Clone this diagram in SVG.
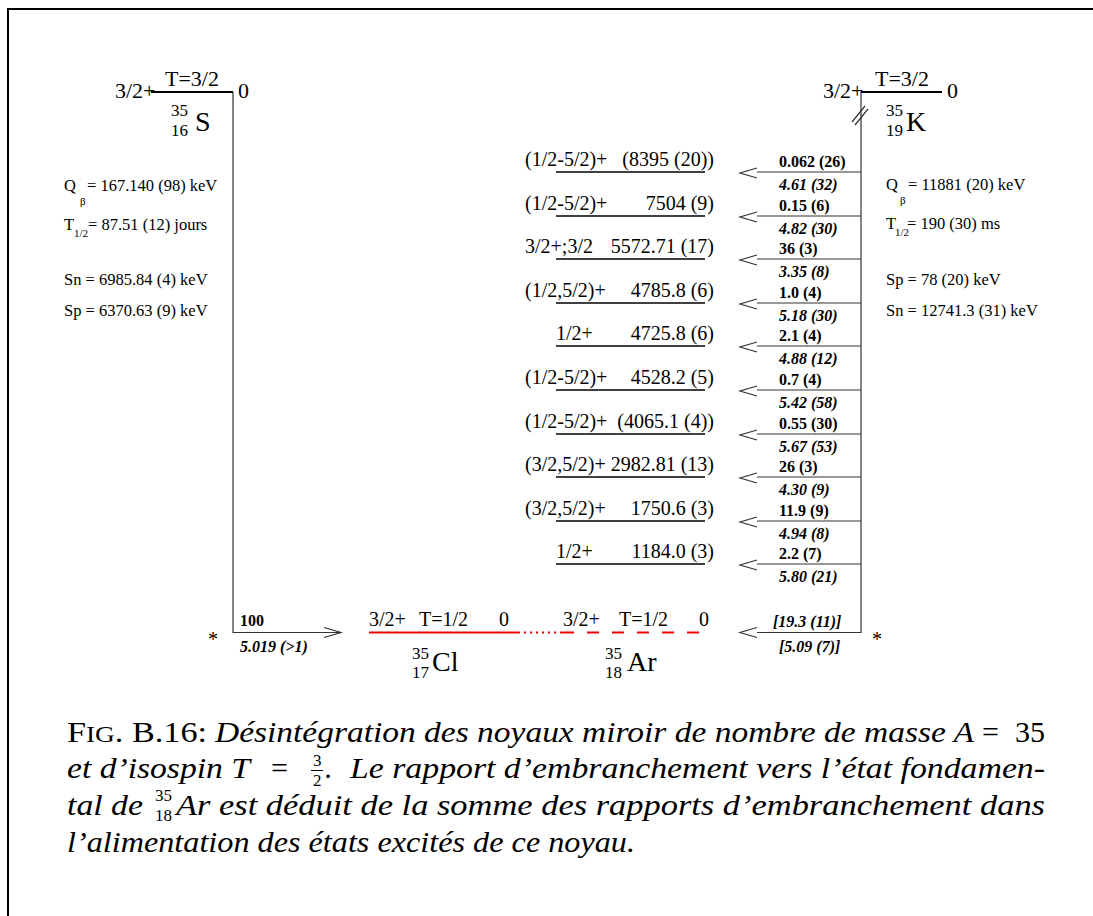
<svg xmlns="http://www.w3.org/2000/svg" width="1093" height="916" viewBox="0 0 1093 916">
<style>
text{font-family:"Liberation Serif","Times New Roman",serif;fill:#000}
.lv{font-size:20px}
.big{font-size:22px}
.info{font-size:16.5px}
.sub{font-size:11px}
.b{font-size:16px;font-weight:bold}
.bi{font-size:16px;font-weight:bold;font-style:italic}
.iso{font-size:17px}
.el{font-size:28px}
.lvl{stroke:#000;stroke-width:1.6;fill:none}
.ar{stroke:#333;stroke-width:1.2;fill:none}
.cap{font-size:30px}
.it{font-style:italic}
.frac{font-size:17px}
</style>
<defs>
<path id="chevL" d="M17,-5 L0,0 L17,5" fill="none" stroke="#333" stroke-width="1.2"/>
<path id="chevR" d="M-17,-5 L0,0 L-17,5" fill="none" stroke="#333" stroke-width="1.2"/>
</defs>
<path d="M8,916 V9 H1093" fill="none" stroke="#000" stroke-width="2"/>

<g id="S35">
<line x1="151" y1="92" x2="233" y2="92" stroke="#000" stroke-width="2"/>
<text class="big" x="115" y="98">3/2+</text>
<text class="big" x="165" y="86" font-size="23">T=3/2</text>
<text class="big" x="238" y="98">0</text>
<text class="iso" x="171" y="116">35</text>
<text class="iso" x="171" y="136">16</text>
<text class="el" x="195" y="131">S</text>
<text class="info" x="64" y="191">Q</text><text class="sub" x="80" y="205">β</text><text class="info" x="87" y="191">= 167.140 (98) keV</text>
<text class="info" x="64" y="230">T</text><text class="sub" x="74" y="237">1/2</text><text class="info" x="88" y="230">= 87.51 (12) jours</text>
<text class="info" x="64" y="285">Sn = 6985.84 (4) keV</text>
<text class="info" x="64" y="316">Sp = 6370.63 (9) keV</text>
</g>

<g id="K35">
<line x1="861" y1="92" x2="942" y2="92" stroke="#000" stroke-width="2"/>
<text class="big" x="823" y="98">3/2+</text>
<text class="big" x="875" y="86" font-size="23">T=3/2</text>
<text class="big" x="947" y="98">0</text>
<text class="iso" x="886" y="116">35</text>
<text class="iso" x="886" y="136">19</text>
<text class="el" x="906" y="131">K</text>
<text class="info" x="886" y="190">Q</text><text class="sub" x="900" y="204">β</text><text class="info" x="908" y="190">= 11881 (20) keV</text>
<text class="info" x="886" y="229">T</text><text class="sub" x="895" y="236">1/2</text><text class="info" x="907" y="229">= 190 (30) ms</text>
<text class="info" x="886" y="285">Sp = 78 (20) keV</text>
<text class="info" x="886" y="316">Sn = 12741.3 (31) keV</text>
</g>

<g id="Cl35">
<line x1="369" y1="632.5" x2="518" y2="632.5" stroke="#e00" stroke-width="2.2"/>
<text class="lv" x="369" y="626" font-size="21">3/2+</text>
<text class="lv" x="419" y="626" font-size="21">T=1/2</text>
<text class="lv" x="499" y="626" font-size="21">0</text>
<text class="iso" x="412" y="659" font-size="16">35</text>
<text class="iso" x="412" y="678" font-size="16">17</text>
<text class="el" x="432" y="671" font-size="26">Cl</text>
</g>

<g id="Ar35">
<line x1="518" y1="632.5" x2="562" y2="632.5" stroke="#e00" stroke-width="2.2" stroke-dasharray="2,4"/>
<line x1="562" y1="632.5" x2="700" y2="632.5" stroke="#e00" stroke-width="2.2" stroke-dasharray="12,13"/>
<text class="lv" x="563" y="626" font-size="21">3/2+</text>
<text class="lv" x="619" y="626" font-size="21">T=1/2</text>
<text class="lv" x="699" y="626" font-size="21">0</text>
<text class="iso" x="605" y="659" font-size="16">35</text>
<text class="iso" x="605" y="678" font-size="16">18</text>
<text class="el" x="627" y="671" font-size="26">Ar</text>
</g>

<g id="L1"><line class="lvl" x1="556" y1="172" x2="705" y2="172"/><text class="lv" x="525" y="166">(1/2-5/2)+</text><text class="lv" x="714" y="166" text-anchor="end">(8395 (20))</text><text class="b" x="779" y="167">0.062 (26)</text><text class="bi" x="779" y="190">4.61 (32)</text></g>
<g id="L2"><line class="lvl" x1="556" y1="216" x2="705" y2="216"/><text class="lv" x="525" y="210">(1/2-5/2)+</text><text class="lv" x="714" y="210" text-anchor="end">7504 (9)</text><text class="b" x="779" y="211">0.15 (6)</text><text class="bi" x="779" y="234">4.82 (30)</text></g>
<g id="L3"><line class="lvl" x1="556" y1="259" x2="705" y2="259"/><text class="lv" x="525" y="253">3/2+;3/2</text><text class="lv" x="714" y="253" text-anchor="end">5572.71 (17)</text><text class="b" x="779" y="254">36 (3)</text><text class="bi" x="779" y="277">3.35 (8)</text></g>
<g id="L4"><line class="lvl" x1="556" y1="303" x2="705" y2="303"/><text class="lv" x="525" y="297">(1/2,5/2)+</text><text class="lv" x="714" y="297" text-anchor="end">4785.8 (6)</text><text class="b" x="779" y="298">1.0 (4)</text><text class="bi" x="779" y="321">5.18 (30)</text></g>
<g id="L5"><line class="lvl" x1="556" y1="346" x2="705" y2="346"/><text class="lv" x="556" y="340">1/2+</text><text class="lv" x="714" y="340" text-anchor="end">4725.8 (6)</text><text class="b" x="779" y="341">2.1 (4)</text><text class="bi" x="779" y="364">4.88 (12)</text></g>
<g id="L6"><line class="lvl" x1="556" y1="390" x2="705" y2="390"/><text class="lv" x="525" y="384">(1/2-5/2)+</text><text class="lv" x="714" y="384" text-anchor="end">4528.2 (5)</text><text class="b" x="779" y="385">0.7 (4)</text><text class="bi" x="779" y="408">5.42 (58)</text></g>
<g id="L7"><line class="lvl" x1="556" y1="434" x2="705" y2="434"/><text class="lv" x="525" y="428">(1/2-5/2)+</text><text class="lv" x="714" y="428" text-anchor="end">(4065.1 (4))</text><text class="b" x="779" y="429">0.55 (30)</text><text class="bi" x="779" y="452">5.67 (53)</text></g>
<g id="L8"><line class="lvl" x1="556" y1="477" x2="705" y2="477"/><text class="lv" x="525" y="471">(3/2,5/2)+</text><text class="lv" x="714" y="471" text-anchor="end">2982.81 (13)</text><text class="b" x="779" y="472">26 (3)</text><text class="bi" x="779" y="495">4.30 (9)</text></g>
<g id="L9"><line class="lvl" x1="556" y1="521" x2="705" y2="521"/><text class="lv" x="525" y="515">(3/2,5/2)+</text><text class="lv" x="714" y="515" text-anchor="end">1750.6 (3)</text><text class="b" x="779" y="516">11.9 (9)</text><text class="bi" x="779" y="539">4.94 (8)</text></g>
<g id="L10"><line class="lvl" x1="556" y1="564" x2="705" y2="564"/><text class="lv" x="556" y="558">1/2+</text><text class="lv" x="714" y="558" text-anchor="end">1184.0 (3)</text><text class="b" x="779" y="559">2.2 (7)</text><text class="bi" x="779" y="582">5.80 (21)</text></g>

<g id="connectors">
<path class="ar" d="M233,92 V632.5 H341"/>
<use href="#chevR" x="341" y="632.5"/>
<path class="ar" d="M861,92 V632.5 H757"/>
<use href="#chevL" x="740" y="632.5"/>
<path d="M852,122 L865,106 M855,125 L868,109" stroke="#333" stroke-width="1.2" fill="none"/>
<path class="ar" d="M861,172H757 M861,216H757 M861,259H757 M861,303H757 M861,346H757 M861,390H757 M861,434H757 M861,477H757 M861,521H757 M861,564H757"/>
<use href="#chevL" x="740" y="173"/>
<use href="#chevL" x="740" y="217"/>
<use href="#chevL" x="740" y="260"/>
<use href="#chevL" x="740" y="304"/>
<use href="#chevL" x="740" y="347"/>
<use href="#chevL" x="740" y="391"/>
<use href="#chevL" x="740" y="435"/>
<use href="#chevL" x="740" y="478"/>
<use href="#chevL" x="740" y="522"/>
<use href="#chevL" x="740" y="565"/>
<text class="b" x="240" y="626">100</text>
<text class="bi" x="240" y="652">5.019 (&gt;1)</text>
<text class="bi" x="773" y="627">[19.3 (11)]</text>
<text class="bi" x="779" y="652">[5.09 (7)]</text>
<text x="208" y="646" font-size="20">*</text>
<text x="872" y="646" font-size="20">*</text>
</g>

<g id="caption">
<text class="cap" x="67" y="742" textLength="140" lengthAdjust="spacingAndGlyphs">F<tspan font-size="24">IG</tspan>. B.16:</text>
<text class="cap it" x="215" y="742" textLength="759" lengthAdjust="spacingAndGlyphs">Désintégration des noyaux miroir de nombre de masse A</text>
<text class="cap" x="982" y="742">=</text>
<text class="cap" x="1045" y="742" text-anchor="end">35</text>
<text class="cap it" x="67" y="778" textLength="183" lengthAdjust="spacingAndGlyphs">et d’isospin T</text>
<text class="cap" x="271" y="778">=</text>
<text class="frac" x="313" y="766">3</text>
<line x1="311" y1="770.5" x2="323" y2="770.5" stroke="#000" stroke-width="1"/>
<text class="frac" x="313" y="786">2</text>
<text class="cap it" x="325" y="778">.</text>
<text class="cap it" x="350" y="778" textLength="695" lengthAdjust="spacingAndGlyphs">Le rapport d’embranchement vers l’état fondamen-</text>
<text class="cap it" x="67" y="815" textLength="76" lengthAdjust="spacingAndGlyphs">tal de</text>
<text class="frac" x="155" y="801" font-size="18">35</text>
<text class="frac" x="155" y="821" font-size="18">18</text>
<text class="cap it" x="176" y="815" textLength="869" lengthAdjust="spacingAndGlyphs">Ar est déduit de la somme des rapports d’embranchement dans</text>
<text class="cap it" x="67" y="852" textLength="568" lengthAdjust="spacingAndGlyphs">l’alimentation des états excités de ce noyau.</text>
</g>
</svg>
